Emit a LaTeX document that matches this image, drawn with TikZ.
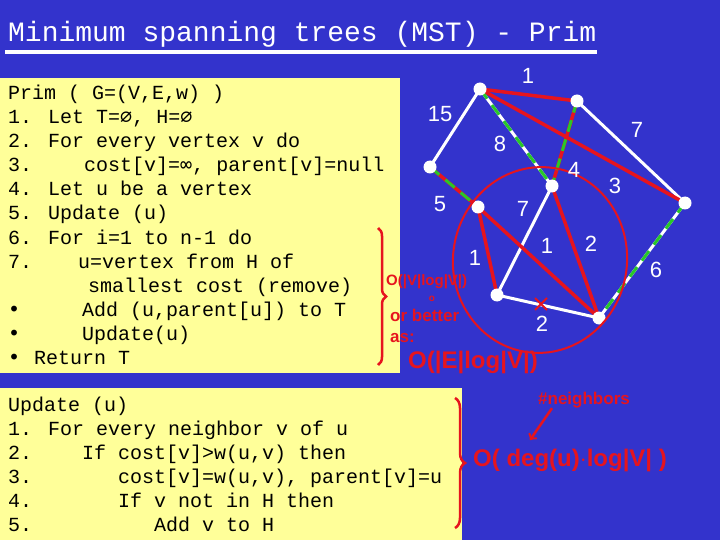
\documentclass[tikz,border=0pt]{standalone}
\usepackage{fontspec}
\setmainfont{Liberation Mono}
\newfontfamily\djm{DejaVu Sans Mono}
\newfontfamily\hand{Liberation Sans}
\usetikzlibrary{decorations.pathreplacing}
\definecolor{bg}{RGB}{51,51,204}
\definecolor{yel}{RGB}{255,255,153}
\definecolor{rd}{RGB}{230,20,30}
\definecolor{gr}{RGB}{40,200,40}
\begin{document}
\begin{tikzpicture}[x=1pt,y=-1pt,
 code/.style={anchor=base west,inner sep=0,font=\fontsize{20}{24}\selectfont},
 wt/.style={text=white,font=\hand\fontsize{22}{24}\selectfont,inner sep=0},
 vtx/.style={circle,fill=white,inner sep=0,minimum size=13pt},
 edg/.style={white,line width=3pt},
 thin/.style={white,line width=1pt},
 tree/.style={rd,line width=3.5pt},
 gd/.style={gr,line width=3pt,dash pattern=on 12pt off 8pt},
 hw/.style={text=rd,font=\hand\bfseries\fontsize{17}{20}\selectfont,inner sep=0}]
\fill[bg] (0,0) rectangle (720,540);
\node[anchor=base west,inner sep=0,text=white,font=\fontsize{28}{30}\selectfont] (title) at (8,42) {Minimum spanning trees (MST) - Prim};
\draw[white,line width=4pt] (5,52) -- (597,52);
\fill[yel] (0,78) rectangle (400,373);
\fill[yel] (0,388) rectangle (462,540);
% code box 1
\node[code] (l0) at (8,100) {Prim ( G=(V,E,w) )};
\node[code] (l1) at (8,124) {1. Let T={\djm ∅}, H={\djm ∅}};
\node[code] (l2) at (8,148) {2. For every vertex v do};
\node[code] (l3) at (8,172) {3.};
\node[code] (l3b) at (84,172) {cost[v]={\djm ∞}, parent[v]=null};
\node[code] (l4) at (8,196) {4. Let u be a vertex};
\node[code] (l5) at (8,220) {5. Update (u)};
\node[code] (l6) at (8,244) {6. For i=1 to n-1 do};
\node[code] (l7) at (8,268) {7.};
\node[code] (l7b) at (78,268) {u=vertex from H of};
\node[code] (l8) at (88,292) {smallest cost (remove)};
\node[code] (l9) at (8,316) {\djm •};
\node[code] (l9b) at (82,316) {Add (u,parent[u]) to T};
\node[code] (l10) at (8,340) {\djm •};
\node[code] (l10b) at (82,340) {Update(u)};
\node[code] (l11) at (8,364) {\djm •};
\node[code] (l11b) at (34,364) {Return T};
% code box 2
\node[code] (m0) at (8,411) {Update (u)};
\node[code] (m1) at (8,435) {1. For every neighbor v of u};
\node[code] (m2) at (8,459) {2.};
\node[code] (m2b) at (82,459) {If cost[v]>w(u,v) then};
\node[code] (m3) at (8,483) {3.};
\node[code] (m3b) at (118,483) {cost[v]=w(u,v), parent[v]=u};
\node[code] (m4) at (8,507) {4.};
\node[code] (m4b) at (118,507) {If v not in H then};
\node[code] (m5) at (8,531) {5.};
\node[code] (m5b) at (154,531) {Add v to H};
% graph
\coordinate (A) at (480,89);
\coordinate (B) at (577,101);
\coordinate (C) at (430,167);
\coordinate (D) at (552,186);
\coordinate (E) at (478,207);
\coordinate (F) at (685,203);
\coordinate (G) at (497,295);
\coordinate (H) at (599,318);
\draw[edg] (A)--(C) (A)--(D) (B)--(F) (G)--(D) (G)--(H) (H)--(F);
\draw[thin] (A)--(B) (A)--(F) (B)--(D) (C)--(E) (E)--(G) (E)--(H) (D)--(H);
\draw[tree] (A)--(B)--(D) (A)--(F) (C)--(E)--(H) (E)--(G) (D)--(H);
\draw[gd] (A)--(D) (B)--(D) (C)--(E) (F)--(H);
\foreach \v in {A,B,C,D,E,F,G,H} \node[vtx] (n\v) at (\v) {};
\draw[rd,line width=2pt,rotate around={-8:(540,260)}] (540,260) ellipse [x radius=87, y radius=93];
\draw[rd,line width=2pt] (535,298)--(547,310) (547,298)--(535,310);
\node[wt] (w1) at (528,76) {1};
\node[wt] (w15) at (440,114) {15};
\node[wt] (w8) at (500,144) {8};
\node[wt] (w7a) at (637,130) {7};
\node[wt] (w4) at (574,170) {4};
\node[wt] (w3) at (615,186) {3};
\node[wt] (w5) at (440,204) {5};
\node[wt] (w7b) at (523,209) {7};
\node[wt] (w1b) at (475,258) {1};
\node[wt] (w1c) at (547,246) {1};
\node[wt] (w2a) at (591,244) {2};
\node[wt] (w6) at (656,270) {6};
\node[wt] (w2b) at (542,324) {2};
% annotations
\draw[rd,line width=2.5pt,decorate,decoration={brace,amplitude=8pt}] (378,228) -- (378,365);
\draw[rd,line width=2.5pt,decorate,decoration={brace,amplitude=10pt}] (455,398) -- (455,528);
\node[hw,anchor=west,font=\hand\bfseries\fontsize{15}{16}\selectfont] (o1) at (386,282) {O(|V|log|V|)};
\node[hw] (o2) at (432,299) {\fontsize{10}{10}\selectfont o};
\node[hw,anchor=west] (o3) at (390,315) {or better};
\node[hw,anchor=west] (o4) at (390,338) {as:};
\node[hw,anchor=west,font=\hand\bfseries\fontsize{24}{26}\selectfont] (o5) at (408,362) {O(|E|log|V|)};
\node[hw,anchor=west] (nb) at (538,400) {\#neighbors};
\node[hw,anchor=west,font=\hand\bfseries\fontsize{24}{26}\selectfont] (o6) at (473,460) {O( deg(u)$\cdot$log|V| )};
\draw[rd,line width=2.5pt,->] (nb.south west)++(14,0) -- (530,440);
\end{tikzpicture}
\end{document}
